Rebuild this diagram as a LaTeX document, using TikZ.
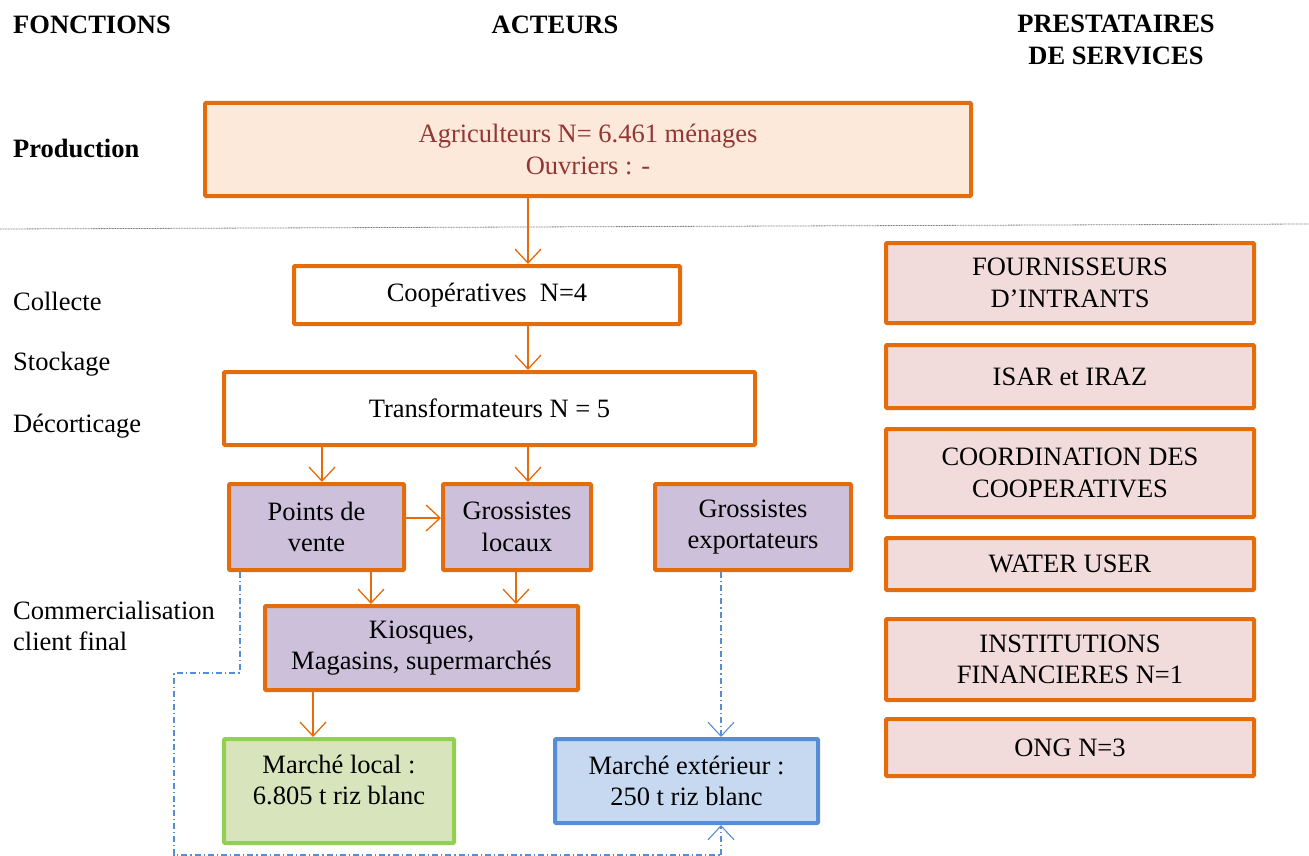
\documentclass[tikz,border=0pt]{standalone}
\usepackage{fontspec}
\setmainfont{Liberation Serif}
\usetikzlibrary{arrows.meta}
\definecolor{orng}{HTML}{E46C0A}
\definecolor{peach}{HTML}{FDE9D9}
\definecolor{lav}{HTML}{CCC0DA}
\definecolor{rosebox}{HTML}{F2DCDB}
\definecolor{grn}{HTML}{92D050}
\definecolor{grnfill}{HTML}{D7E4BC}
\definecolor{blu}{HTML}{558ED5}
\definecolor{blufill}{HTML}{C6D9F1}
\definecolor{maroon}{HTML}{943634}
\begin{document}
\begin{tikzpicture}[x=1pt,y=-1pt,
  every node/.style={font=\fontsize{26.5}{31.5}\selectfont, align=center, inner sep=0pt},
  box/.style={draw=orng, line width=4pt, rectangle, rounded corners=1pt},
  actor/.style={box, fill=white},
  trade/.style={box, fill=lav},
  service/.style={box, fill=rosebox},
  lbl/.style={anchor=west},
  head/.style={font=\fontsize{26.5}{31.5}\selectfont\bfseries},
  arr/.style={draw=orng, line width=1.6pt, -{Straight Barb[length=14pt,width=26pt,line width=1.3pt]}},
  flow/.style={draw=blu, line width=1.2pt, dash pattern=on 6pt off 3pt on 1.2pt off 3pt},
  flowarr/.style={flow, -{Straight Barb[length=14pt,width=26pt,line width=1.1pt]}}
]
\useasboundingbox (0,0) rectangle (1309,856);

% column headers
\node[head, lbl] (hf) at (13,25) {FONCTIONS};
\node[head] (ha) at (555,25) {ACTEURS};
\node[head] (hp) at (1116,40) {PRESTATAIRES\\DE SERVICES};

% functions
\node[head, lbl] (fprod) at (13,148) {Production};
\node[lbl] (fcol) at (13,301) {Collecte};
\node[lbl] (fsto) at (13,364) {Stockage};
\node[lbl] (fdec) at (13,426) {Décorticage};
\node[lbl, align=left] (fcom) at (13,626) {Commercialisation\\client final};

% separator
\draw[gray, line width=0.8pt, dash pattern=on 1pt off 0.6pt] (0,229) -- (1309,224);

% actors
\node[box, fill=peach, text=maroon, minimum width=766pt, minimum height=93pt] (agri) at (588,149.5)
  {Agriculteurs N= 6.461 ménages\\Ouvriers : -};
\node[actor, minimum width=386pt, minimum height=58pt] (coop) at (487,295) {Coopératives~~N=4};
\node[actor, minimum width=531pt, minimum height=73pt] (trans) at (489.5,408.5) {Transformateurs N = 5};
\node[trade, minimum width=175pt, minimum height=86pt] (pv) at (316.5,527) {Points de\\vente};
\node[trade, minimum width=148pt, minimum height=86pt] (gl) at (517,527) {Grossistes\\locaux};
\node[trade, minimum width=196pt, minimum height=86pt] (ge) at (753,527) {Grossistes\\exportateurs};
\node[trade, minimum width=313pt, minimum height=84pt] (kio) at (421.5,648) {Kiosques,\\Magasins, supermarchés};
\node[box, draw=grn, fill=grnfill, minimum width=230pt, minimum height=104pt, text depth=22pt] (mloc) at (339,791)
  {Marché local :\\6.805 t riz blanc};
\node[box, draw=blu, fill=blufill, minimum width=263pt, minimum height=84pt] (mext) at (686.5,781)
  {Marché extérieur :\\250 t riz blanc};

% service providers
\node[service, minimum width=368pt, minimum height=80pt] (s1) at (1070,283) {FOURNISSEURS\\D’INTRANTS};
\node[service, minimum width=368pt, minimum height=63pt] (s2) at (1070,376.5) {ISAR et IRAZ};
\node[service, minimum width=368pt, minimum height=88pt] (s3) at (1070,473) {COORDINATION DES\\COOPERATIVES};
\node[service, minimum width=368pt, minimum height=52pt] (s4) at (1070,564) {WATER USER};
\node[service, minimum width=368pt, minimum height=81pt] (s5) at (1070,659.5) {INSTITUTIONS\\FINANCIERES N=1};
\node[service, minimum width=368pt, minimum height=57pt] (s6) at (1070,747.5) {ONG N=3};

% connector columns
\coordinate (xa) at (528,0);
\coordinate (xb) at (322,0);
\coordinate (xc) at (371,0);
\coordinate (xd) at (516,0);
\coordinate (xe) at (313,0);
\coordinate (xf) at (721,0);
\coordinate (xg) at (240,0);
\coordinate (yb) at (0,518);

% product flow
\draw[arr] (agri.south -| xa) -- (coop.north -| xa);
\draw[arr] (coop.south -| xa) -- (trans.north -| xa);
\draw[arr] (trans.south -| xb) -- (pv.north -| xb);
\draw[arr] (trans.south -| xa) -- (gl.north -| xa);
\draw[arr] (pv.east |- yb) -- (gl.west |- yb);
\draw[arr] (pv.south -| xc) -- (kio.north -| xc);
\draw[arr] (gl.south -| xd) -- (kio.north -| xd);
\draw[arr] (kio.south -| xe) -- (mloc.north -| xe);

% export flow
\coordinate (k1) at (240,673);
\coordinate (k2) at (174,673);
\coordinate (k3) at (174,855);
\coordinate (k4) at (721,855);
\draw[flowarr] (ge.south -| xf) -- (mext.north -| xf);
\draw[flow] (pv.south -| xg) -- (k1) -- (k2) -- (k3) -- (k4);
\draw[flowarr] (k4) -- (mext.south -| xf);
\end{tikzpicture}
\end{document}
